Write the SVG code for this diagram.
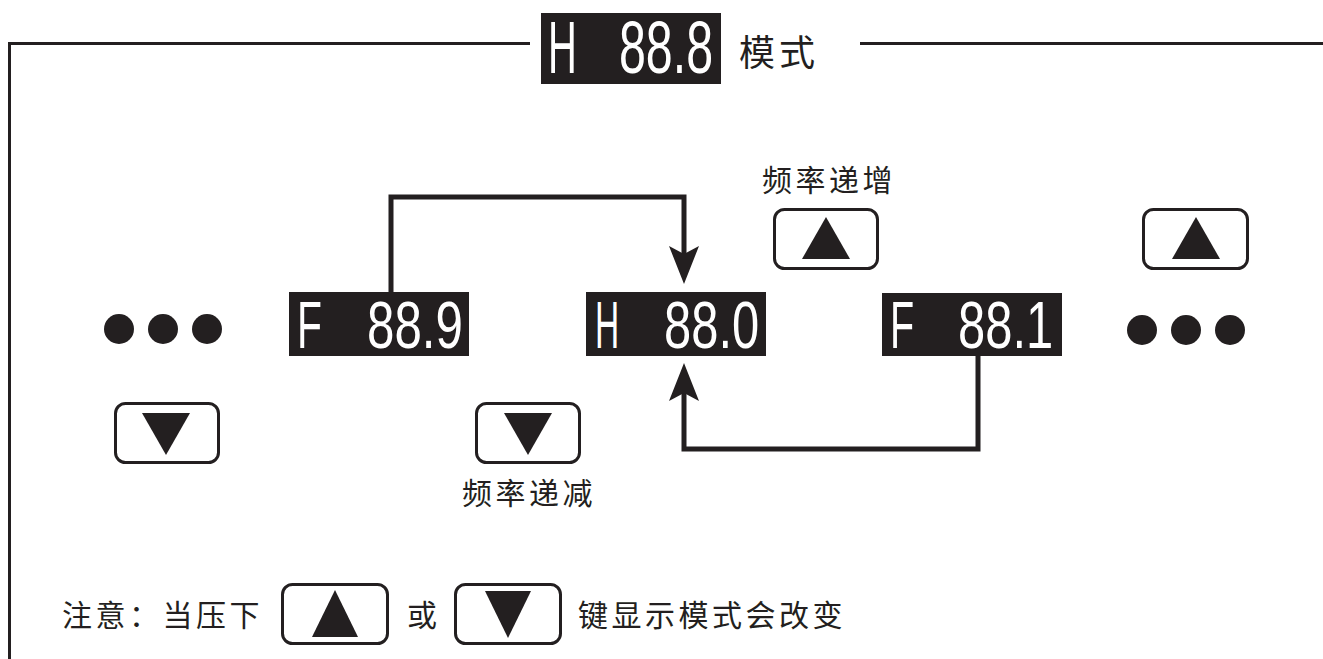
<svg xmlns="http://www.w3.org/2000/svg" width="1323" height="659" viewBox="0 0 1323 659">
<style>
.frame{fill:none;stroke:#231f20;stroke-width:3}
.conn{fill:none;stroke:#231f20;stroke-width:5}
.disp{fill:#231f20}
.seg{fill:#ffffff;font-family:"Liberation Sans",sans-serif;font-size:67px}
.segT{fill:#ffffff;font-family:"Liberation Sans",sans-serif;font-size:74px}
.key{fill:#ffffff;stroke:#231f20;stroke-width:3}
.tri{fill:#231f20}
.dot{fill:#231f20}
.cn{fill:#231f20;font-family:"Liberation Sans","Noto Sans CJK SC",sans-serif;font-size:30px;letter-spacing:3.5px}
</style>
<defs>
<marker id="ah" markerUnits="userSpaceOnUse" viewBox="0 0 38 30" markerWidth="38" markerHeight="30" refX="8" refY="15" orient="auto">
<path d="M0,0 L38,15 L0,30 L8,15 Z" fill="#231f20"/>
</marker>
</defs>
<g id="frame">
<path class="frame" d="M530,43.5 H9.5 V659"/>
<path class="frame" d="M860,43.5 H1323"/>
</g>
<g id="title">
<rect class="disp" x="541" y="13" width="180" height="71"/>
<text class="segT" transform="translate(548,73) scale(0.54,1)">H</text>
<text class="segT" transform="translate(619,73) scale(0.653,1)">88.8</text>
<text class="cn" x="739" y="66" style="font-size:36px;letter-spacing:4px">模式</text>
</g>
<g id="connectors">
<path class="conn" d="M391,292 V197 H684 V254" marker-end="url(#ah)"/>
<path class="conn" d="M978,356 V449 H684 V393" marker-end="url(#ah)"/>
</g>
<g id="dots-left">
<circle class="dot" cx="119" cy="329" r="15"/>
<circle class="dot" cx="163" cy="329" r="15"/>
<circle class="dot" cx="207" cy="329" r="15"/>
</g>
<g id="disp-f889">
<rect class="disp" x="289" y="292" width="180" height="64"/>
<text class="seg" transform="translate(297,348) scale(0.61,1)">F</text>
<text class="seg" transform="translate(367,348) scale(0.736,1)">88.9</text>
</g>
<g id="disp-h880">
<rect class="disp" x="586" y="292" width="180" height="64"/>
<text class="seg" transform="translate(595,348) scale(0.5,1)">H</text>
<text class="seg" transform="translate(664,348) scale(0.73,1)">88.0</text>
</g>
<g id="disp-f881">
<rect class="disp" x="882" y="293" width="180" height="63"/>
<text class="seg" transform="translate(890,348) scale(0.59,1)">F</text>
<text class="seg" transform="translate(958,348) scale(0.73,1)">88.1</text>
</g>
<g id="dots-right">
<circle class="dot" cx="1142" cy="330" r="15"/>
<circle class="dot" cx="1186" cy="330" r="15"/>
<circle class="dot" cx="1230" cy="330" r="15"/>
</g>
<g id="key-up-1">
<text class="cn" x="762" y="191">频率递增</text>
<rect class="key" x="774.5" y="209.5" width="103" height="59" rx="10"/>
<polygon class="tri" points="826,217 850,259 802,259"/>
</g>
<g id="key-up-2">
<rect class="key" x="1143.5" y="209.5" width="104" height="59" rx="10"/>
<polygon class="tri" points="1196,217 1220,259 1172,259"/>
</g>
<g id="key-down-1">
<rect class="key" x="115.5" y="403.5" width="103" height="59" rx="10"/>
<polygon class="tri" points="142,413 190,413 166,455"/>
</g>
<g id="key-down-2">
<rect class="key" x="476.5" y="403.5" width="103" height="59" rx="10"/>
<polygon class="tri" points="504,413 552,413 528,455"/>
<text class="cn" x="462" y="504">频率递减</text>
</g>
<g id="note">
<text class="cn" x="62" y="626">注意：当压下</text>
<rect class="key" x="282.5" y="584.5" width="105" height="59" rx="10"/>
<polygon class="tri" points="335,590 358,637 312,637"/>
<text class="cn" x="407" y="626">或</text>
<rect class="key" x="455.5" y="584.5" width="105" height="59" rx="10"/>
<polygon class="tri" points="485,591 531,591 508,638"/>
<text class="cn" x="578" y="626">键显示模式会改变</text>
</g>
</svg>
